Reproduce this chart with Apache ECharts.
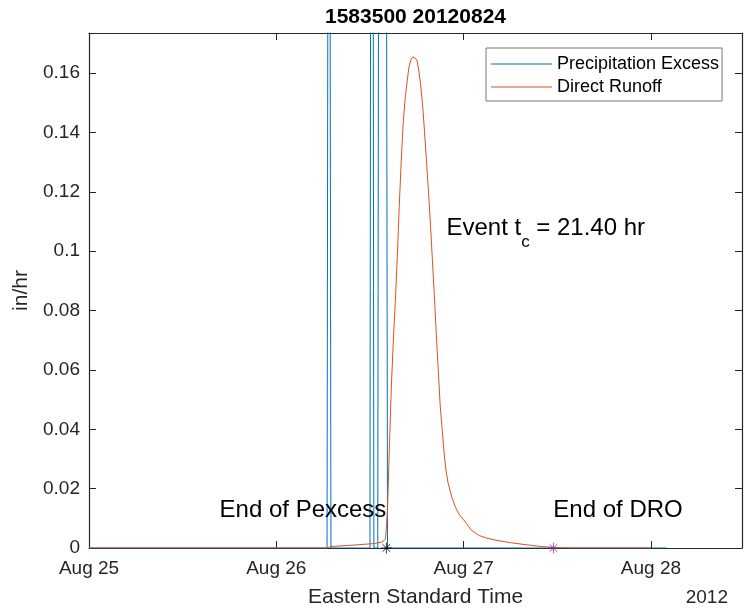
<!DOCTYPE html>
<html><head><meta charset="utf-8">
<script src="https://cdn.jsdelivr.net/npm/echarts@6/dist/echarts.min.js"></script>
<style>html,body{margin:0;padding:0;background:#fff}#c{width:750px;height:613px}</style>
</head><body><div id="c"></div>
<script>
const FONT = '"Liberation Sans", Arial, Helvetica, sans-serif';
const AXC = '#262626';

// x values are hours since 2012-08-25 00:00 EST
const chartTitle = '1583500 20120824';
const xTickLabels = ['Aug 25', 'Aug 26', 'Aug 27', 'Aug 28'];
const xMaxHours = 83.67;
const yMax = 0.1735;
const yInterval = 0.02;

const precipHours  = [0, 30.5, 30.75, 31.0, 36.0, 36.25, 36.5, 37.0, 37.25, 37.5, 37.75, 38.0, 38.25, 74];
const precipValues = [0, 0,    0.45,  0,    0,    0.6,   0,    0,    0.5,   0.35,  0.3,   0.4,  0,     0];

const runoffHours  = [0, 30.5, 31, 34, 36.5, 37.5, 37.75, 38.0, 38.25, 38.5, 38.75, 39.0, 39.25, 39.5, 39.75,
  40.0, 40.25, 40.5, 40.75, 41.0, 41.25, 41.5, 41.75, 42.0, 42.25, 42.5, 42.75, 43.0, 43.25, 43.5, 43.75,
  44.0, 44.25, 44.5, 44.75, 45.0, 45.25, 45.5, 45.75, 46.0, 46.5, 47.0, 47.5, 48, 49, 50, 51, 52, 54, 56, 58, 59.5, 60, 62, 72];
const runoffValues = [0, 0, 0.0005, 0.001, 0.0015, 0.002, 0.0025, 0.003, 0.013, 0.035, 0.055, 0.07, 0.083, 0.098, 0.115,
  0.13, 0.143, 0.151, 0.157, 0.162, 0.1645, 0.1655, 0.1658, 0.1645, 0.161, 0.156, 0.149, 0.140, 0.130, 0.120, 0.109,
  0.097, 0.085, 0.072, 0.060, 0.048, 0.040, 0.032, 0.026, 0.022, 0.017, 0.0135, 0.011, 0.0095, 0.006, 0.0042, 0.0033, 0.0027, 0.0018, 0.0011, 0.0005, 0.0002, 0.0001, 0, 0];

const endPexcessHour = 38.1;
const eventTc = 21.40;
const endDroHour = endPexcessHour + eventTc;

const seriesNames = ['Precipitation Excess', 'Direct Runoff'];

const zip = (a, b) => a.map((v, i) => [v, b[i]]);
const asterisk = 'path://M0,-10L0,10M-10,0L10,0M-7.07,-7.07L7.07,7.07M-7.07,7.07L7.07,-7.07';

const chart = echarts.init(document.getElementById('c'), null, {renderer: 'canvas'});

const xLabelFmt = v => {
  const k = v / 24;
  return Math.abs(k - Math.round(k)) < 1e-6 ? (xTickLabels[Math.round(k)] || '') : '';
};
const yLabelFmt = v => {
  const k = v / yInterval;
  return Math.abs(k - Math.round(k)) < 1e-6 ? String(+v.toFixed(2)) : '';
};

const baseAxis = () => ({
  axisLine: {show: true, onZero: false, lineStyle: {color: AXC, width: 1.2}},
  axisTick: {show: true, inside: true, length: 7, lineStyle: {color: AXC, width: 1}},
  splitLine: {show: false},
});

chart.setOption({
  animation: false,
  backgroundColor: '#fff',
  textStyle: {fontFamily: FONT},
  grid: {left: 89, right: 8, top: 33, bottom: 64, containLabel: false},
  legend: {
    orient: 'vertical', left: 486, top: 48,
    data: seriesNames,
    icon: 'rect',
    itemWidth: 61, itemHeight: 1.2, itemGap: 5,
    padding: [7, 3, 5, 5],
    borderColor: '#777', borderWidth: 1, borderRadius: 0, backgroundColor: '#fff',
    textStyle: {fontFamily: FONT, fontSize: 18, color: '#000', lineHeight: 18}
  },
  xAxis: [
    Object.assign(baseAxis(), {
      type: 'value', min: 0, max: xMaxHours, interval: 24, position: 'bottom',
      axisLabel: {formatter: xLabelFmt, fontFamily: FONT, fontSize: 19, color: AXC, margin: 11, showMaxLabel: false},
      name: 'Eastern Standard Time', nameLocation: 'middle', nameGap: 39,
      nameTextStyle: {fontFamily: FONT, fontSize: 21, color: AXC}
    }),
    Object.assign(baseAxis(), {
      type: 'value', min: 0, max: xMaxHours, interval: 24, position: 'top',
      axisLabel: {show: false}
    })
  ],
  yAxis: [
    Object.assign(baseAxis(), {
      type: 'value', min: 0, max: yMax, interval: yInterval, position: 'left',
      axisLabel: {formatter: yLabelFmt, fontFamily: FONT, fontSize: 19, color: AXC, margin: 9, showMaxLabel: false},
      name: 'in/hr', nameLocation: 'middle', nameGap: 55, nameRotate: 90,
      nameTextStyle: {fontFamily: FONT, fontSize: 21, color: AXC}
    }),
    Object.assign(baseAxis(), {
      type: 'value', min: 0, max: yMax, interval: yInterval, position: 'right',
      axisLabel: {show: false}
    })
  ],
  series: [
    {
      name: seriesNames[0], type: 'line', data: zip(precipHours, precipValues),
      showSymbol: false, symbol: 'none', clip: true,
      lineStyle: {color: '#0072BD', width: 1}, itemStyle: {color: '#0072BD'}
    },
    {
      name: seriesNames[1], type: 'line', data: zip(runoffHours, runoffValues),
      showSymbol: false, symbol: 'none', clip: true,
      lineStyle: {color: '#D95319', width: 1}, itemStyle: {color: '#D95319'}
    },
    {
      name: 'endPexcess', type: 'scatter', data: [[endPexcessHour, 0]], symbol: asterisk, symbolSize: 11, clip: false,
      itemStyle: {color: 'rgba(0,0,0,0)', borderColor: '#000', borderWidth: 1}, z: 5
    },
    {
      name: 'endDro', type: 'scatter', data: [[endDroHour, 0]], symbol: asterisk, symbolSize: 11, clip: false,
      itemStyle: {color: 'rgba(0,0,0,0)', borderColor: '#7E2F8E', borderWidth: 1}, z: 5
    }
  ]
});

// annotations in data coordinates
const annotY = 0.0128;
const tcPos = [45.8, 0.1076];
const px = (x, y) => chart.convertToPixel({xAxisIndex: 0, yAxisIndex: 0}, [x, y]);
const cv = document.createElement('canvas').getContext('2d');
const tw = (s, size) => { cv.font = size + 'px ' + FONT; return cv.measureText(s).width; };

const pP = px(endPexcessHour, annotY);
const pD = px(endDroHour, annotY);
const pT = px(tcPos[0], tcPos[1]);
const big = 24, sub = 17;
const part1 = 'Event t', part3 = ' = ' + eventTc.toFixed(2) + ' hr';
const w1 = tw(part1, big), w2 = tw('c', sub);

const gridRect = {l: 89, r: 742};
chart.setOption({
  graphic: [
    {type: 'text', x: (gridRect.l + gridRect.r) / 2, y: 17, style: {text: chartTitle, font: 'bold 21px ' + FONT, fill: '#000', align: 'center', verticalAlign: 'middle'}},
    {type: 'text', x: 728, y: 598, style: {text: '2012', font: '19px ' + FONT, fill: AXC, align: 'right', verticalAlign: 'middle'}},
    {type: 'text', x: pP[0], y: pP[1], z: 10, style: {text: 'End of Pexcess', font: big + 'px ' + FONT, fill: '#000', align: 'right', verticalAlign: 'middle'}},
    {type: 'text', x: pD[0], y: pD[1], z: 10, style: {text: 'End of DRO', font: big + 'px ' + FONT, fill: '#000', align: 'left', verticalAlign: 'middle'}},
    {type: 'text', x: pT[0], y: pT[1], z: 10, style: {text: part1, font: big + 'px ' + FONT, fill: '#000', align: 'left', verticalAlign: 'middle'}},
    {type: 'text', x: pT[0] + w1, y: pT[1] + 14, z: 10, style: {text: 'c', font: sub + 'px ' + FONT, fill: '#000', align: 'left', verticalAlign: 'middle'}},
    {type: 'text', x: pT[0] + w1 + w2, y: pT[1], z: 10, style: {text: part3, font: big + 'px ' + FONT, fill: '#000', align: 'left', verticalAlign: 'middle'}}
  ]
});
</script></body></html>
